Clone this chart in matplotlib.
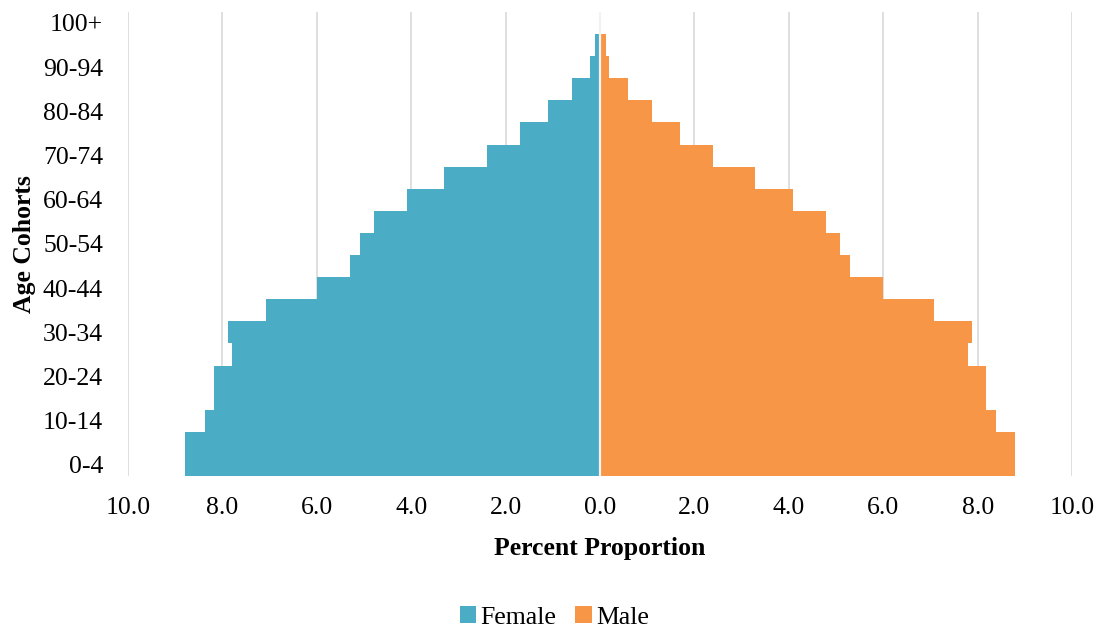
import numpy as np
import matplotlib.pyplot as plt
from matplotlib.ticker import FuncFormatter

# Age cohorts, youngest first
cohorts = ['0-4', '5-9', '10-14', '15-19', '20-24', '25-29', '30-34', '35-39',
           '40-44', '45-49', '50-54', '55-59', '60-64', '65-69', '70-74',
           '75-79', '80-84', '85-89', '90-94', '95-99', '100+']
female = [8.79, 8.79, 8.38, 8.18, 8.18, 7.79, 7.89, 7.08, 5.99, 5.29, 5.08,
          4.79, 4.09, 3.30, 2.40, 1.69, 1.10, 0.60, 0.21, 0.11, 0.0]
male = [8.79, 8.79, 8.39, 8.18, 8.18, 7.79, 7.88, 7.08, 6.00, 5.29, 5.08,
        4.79, 4.08, 3.29, 2.39, 1.69, 1.10, 0.59, 0.20, 0.12, 0.0]

plt.rcParams['font.family'] = ['Liberation Serif', 'DejaVu Serif']

fig = plt.figure(figsize=(11.02, 6.28), dpi=100)
ax = fig.add_axes([0.1162, 0.242, 0.8566, 0.739])

y = np.arange(len(cohorts))
ax.barh(y, -np.array(female), height=1.0, color='#4BACC6', linewidth=0,
        label='Female', zorder=3)
ax.barh(y, male, height=1.0, color='#F79646', linewidth=0,
        label='Male', zorder=3)
# thin light gap between the two halves
ax.axvline(0, color='#F2F2F2', linewidth=1.6, zorder=4)

ax.set_xlim(-10, 10)
ax.set_ylim(-0.5, len(cohorts) - 0.5)
ax.set_xticks(np.arange(-10, 11, 2))
ax.xaxis.set_major_formatter(FuncFormatter(lambda v, p: f'{abs(v):.1f}'))
ax.set_yticks(y[::2])
ax.set_yticklabels(cohorts[::2])
ax.tick_params(length=0, labelsize=18.5)
ax.tick_params(axis='x', pad=15)
ax.tick_params(axis='y', pad=18)

ax.grid(axis='x', color='#D9D9D9', linewidth=1.2, zorder=0)
for s in ax.spines.values():
    s.set_visible(False)

ax.set_xlabel('Percent Proportion', fontsize=18.5, fontweight='bold')
ax.set_ylabel('Age Cohorts', fontsize=18.5, fontweight='bold')
ax.xaxis.set_label_coords(0.5, -0.131)
ax.yaxis.set_label_coords(-0.11, 0.5)
ax.yaxis.label.set_va('center')

fig.legend(loc='center', bbox_to_anchor=(0.503, 0.017), ncol=2,
           frameon=False, fontsize=18.5, handlelength=0.65, handleheight=0.65,
           handletextpad=0.15, columnspacing=0.75, borderpad=0)

fig.savefig('out.png', dpi=100)
